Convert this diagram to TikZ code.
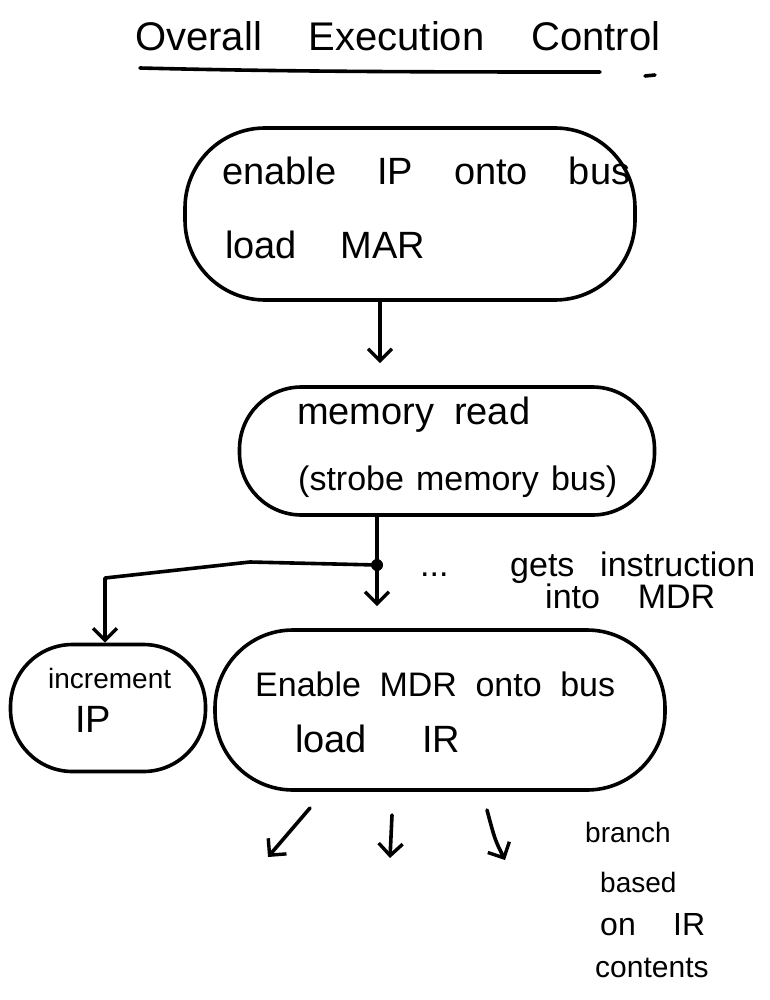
\documentclass[tikz,border=0pt]{standalone}
\usepackage{fontspec}
\setmainfont{Liberation Sans}
\usetikzlibrary{arrows.meta}
\newcommand\stretchtext[2]{\makebox[#1pt][s]{#2}}
\tikzset{
  box/.style={draw, line width=3.6pt, rounded corners=75pt, inner sep=0pt},
  conn/.style={line width=3.6pt, line cap=round, line join=round},
  arr/.style={conn, -{Straight Barb[length=12pt,width=24pt,line width=3.4pt]}},
  big/.style={font=\fontsize{38}{44}\selectfont, anchor=mid west, inner sep=0pt},
  mid/.style={font=\fontsize{34}{40}\selectfont, anchor=mid west, inner sep=0pt},
  small/.style={font=\fontsize{28}{32}\selectfont, anchor=mid west, inner sep=0pt},
}
\begin{document}
\begin{tikzpicture}[x=1pt,y=-1pt]
\useasboundingbox (0,0) rectangle (769,1000);
% title
\node[big, font=\fontsize{40}{46}\selectfont] (title) at (135,48) {\stretchtext{525}{Overall Execution Control}};
\coordinate (u1) at (140,68);
\coordinate (u2) at (600,72);
\coordinate (u3) at (645,76);
\coordinate (u4) at (655,75);
\draw[conn] (u1) .. controls (300,72) and (450,72) .. (u2);
\draw[conn] (u3) -- (u4);
% boxes
\node[box, minimum width=450pt, minimum height=172pt, rounded corners=80pt] (b1) at (410,214) {};
\node[box, minimum width=415pt, minimum height=128pt, rounded corners=62pt] (b2) at (447,451) {};
\node[box, minimum width=195pt, minimum height=127pt, rounded corners=62pt] (b3) at (108,708) {};
\node[box, minimum width=450pt, minimum height=160pt, rounded corners=78pt] (b4) at (440,710) {};
% texts
\node[big] (t1a) at (222,182) {\stretchtext{408}{enable IP onto bus}};
\node[big] (t1b) at (225,256) {\stretchtext{200}{load MAR}};
\node[big] (t2a) at (297,422) {\stretchtext{233}{memory read}};
\node[mid] (t2b) at (298,488) {\stretchtext{319}{(strobe memory bus)}};
\node[small] (t3a) at (48,686) {\stretchtext{132}{increment}};
\node[big] (t3b) at (75,730) {\stretchtext{50}{IP}};
\node[mid] (t4a) at (255,694) {\stretchtext{360}{Enable MDR onto bus}};
\node[big] (t4b) at (295,750) {\stretchtext{165}{load IR}};
\node[mid] (g1) at (420,574) {\stretchtext{335}{... gets instruction}};
\node[mid] (g2) at (545,606) {\stretchtext{170}{into MDR}};
\node[small] (r1) at (585,840) {\stretchtext{115}{branch}};
\node[small] (r2) at (600,890) {\stretchtext{90}{based}};
\node[small, font=\fontsize{32}{36}\selectfont] (r3) at (600,933) {\stretchtext{105}{on IR}};
\node[small, font=\fontsize{30}{34}\selectfont] (r4) at (595,975) {\stretchtext{140}{contents}};
% connectors
\coordinate (j) at (377,565);
\coordinate (k) at (105,578);
\draw[arr, shorten >=22pt] (b1.south -| 380,0) -- (b2.north -| 380,0);
\draw[conn] (b2.south -| j) -- (j);
\draw[arr, shorten >=22pt] (j) -- (b4.north -| j);
\fill (j) circle (6pt);
\draw[arr] (j) -- (250,562) -- (k) -- (k |- b3.north);
% branch arrows
\coordinate (a1s) at (310,808);
\coordinate (a1e) at (268,857);
\coordinate (a2s) at (392,815);
\coordinate (a2e) at (390,858);
\coordinate (a3s) at (487,810);
\coordinate (a3e) at (505,860);
\draw[arr] (a1s) -- (a1e);
\draw[arr] (a2s) -- (a2e);
\draw[arr] (a3s) .. controls (495,840) .. (a3e);
\end{tikzpicture}
\end{document}
